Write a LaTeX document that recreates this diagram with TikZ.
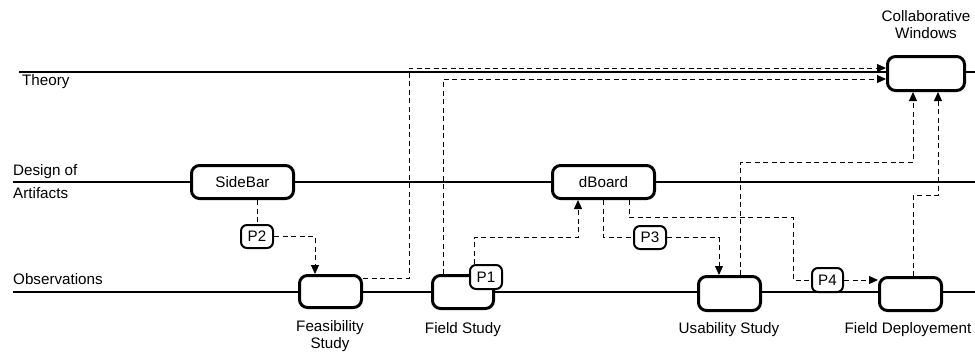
\documentclass[tikz,border=0pt]{standalone}
\usepackage{fontspec}
\setmainfont{Liberation Sans}
\usetikzlibrary{arrows.meta}
\begin{document}
\begin{tikzpicture}[x=1pt,y=-1pt,
  font=\fontsize{15.2}{17}\selectfont,
  lane/.style={line width=2pt},
  phase/.style={draw, fill=white, line width=3pt, rounded corners=8pt, inner sep=0pt},
  tag/.style={draw, fill=white, line width=2pt, rounded corners=6pt, inner sep=0pt,
    minimum width=32pt, minimum height=23pt},
  link/.style={line width=1pt, dash pattern=on 5pt off 3.5pt},
  flow/.style={link, -{Triangle[length=9pt,width=8pt]}},
  caption/.style={align=center, inner sep=0pt}]
\useasboundingbox (0,0) rectangle (975,357);

% swim lanes
\coordinate (thL) at (19,72);   \coordinate (thR) at (975,72);
\coordinate (deL) at (13,182);  \coordinate (deR) at (975,182);
\coordinate (obL) at (13,292);  \coordinate (obR) at (975,292);
\draw[lane] (thL) -- (thR);
\draw[lane] (deL) -- (deR);
\draw[lane] (obL) -- (obR);

\node[caption, anchor=west] (lTheory) at (22,82) {Theory};
\node[caption, anchor=west] (lDesign1) at (13,172) {Design of};
\node[caption, anchor=west] (lDesign2) at (13,193) {Artifacts};
\node[caption, anchor=west] (lObs) at (13,279) {Observations};

% stages
\node[phase, minimum width=102pt, minimum height=33pt] (sidebar) at (242.5,182) {SideBar};
\node[phase, minimum width=102pt, minimum height=33pt] (dboard) at (603.5,182) {dBoard};
\node[phase, minimum width=62pt, minimum height=32pt] (feas) at (330.5,291.5) {};
\node[phase, minimum width=61pt, minimum height=33pt] (field) at (463,292) {};
\node[phase, minimum width=62pt, minimum height=34pt] (usab) at (729.5,293.5) {};
\node[phase, minimum width=62pt, minimum height=33pt] (deploy) at (910.5,294) {};
\node[phase, minimum width=77pt, minimum height=34pt] (collab) at (926,73.5) {};

% publications
\node[tag] (p2) at (257,236.5) {P2};
\node[tag, minimum height=24pt] (p1) at (486,277) {P1};
\node[tag] (p3) at (650,237.5) {P3};
\node[tag, minimum width=31pt, minimum height=24pt] (p4) at (827.5,280) {P4};

% stage captions
\node[caption] (cFeas) at (330,336) {Feasibility\\Study};
\node[caption] (cField) at (463,330) {Field Study};
\node[caption] (cUsab) at (729,330) {Usability Study};
\node[caption] (cDeploy) at (908,330) {Field Deployement};
\node[caption] (cCollab) at (926,25) {Collaborative\\Windows};

% influences
\draw[flow] ([yshift=13.5pt]feas.east) -| (409,68) -- ([yshift=5.5pt]collab.west);
\draw[flow] ([xshift=-20pt]field.north) |- ([yshift=-5.5pt]collab.west);
\draw[flow] ([xshift=-12pt]p1.north) |- (578,237) -- ([xshift=-25.5pt]dboard.south);
\draw[link] ([xshift=14.5pt]sidebar.south) -- (p2.north);
\draw[flow] (p2.east) -| ([xshift=-15.5pt]feas.north);
\draw[link] (dboard.south) |- (p3.west);
\draw[flow] (p3.east) -| ([xshift=-10.5pt]usab.north);
\draw[link] ([xshift=25.5pt]dboard.south) |- (793,217) |- (p4.west);
\draw[flow] (p4.east) -- (deploy.west |- p4.east);
\draw[flow] ([xshift=10.5pt]usab.north) |- (913,162) -- ([xshift=-13pt]collab.south);
\draw[flow] ([xshift=2.5pt]deploy.north) |- (938,195) -- ([xshift=12pt]collab.south);
\end{tikzpicture}
\end{document}
